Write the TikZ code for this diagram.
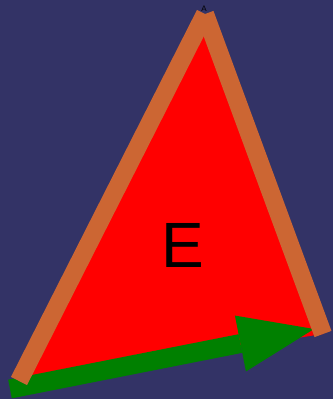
\documentclass[tikz,border=0pt]{standalone}
\usepackage{fontspec}
\setmainfont{Liberation Sans}
\usetikzlibrary{arrows.meta}
\definecolor{bgblue}{HTML}{333366}
\definecolor{edgeorange}{HTML}{CC6633}
\definecolor{arrowgreen}{HTML}{008000}

\begin{document}
\begin{tikzpicture}[x=1pt,y=-1pt,
  edge/.style={draw=edgeorange,line width=18pt,line cap=butt},
  base/.style={draw=arrowgreen,line width=19pt,
    -{Triangle[length=75pt,width=57pt,line width=0pt]}}]
% background
\fill[bgblue] (0,0) rectangle (333,399);
\useasboundingbox (0,0) rectangle (333,399);
% corners
\coordinate (top) at (205,14);
\coordinate (left) at (19,381);
\coordinate (right) at (323,334);
\coordinate (start) at (10,389);
\coordinate (tip) at (314,329);
% triangle
\fill[red] (left) -- (top) -- (right) -- cycle;
\node[font=\fontsize{8}{8}\selectfont] (lblA) at (204,9) {A};
\draw[base] (start) -- (tip);
\draw[edge] (left) -- (top);
\draw[edge] (top) -- (right);
\node[font=\fontsize{64}{64}\selectfont] (lblE) at (183,245) {E};
\end{tikzpicture}
\end{document}
